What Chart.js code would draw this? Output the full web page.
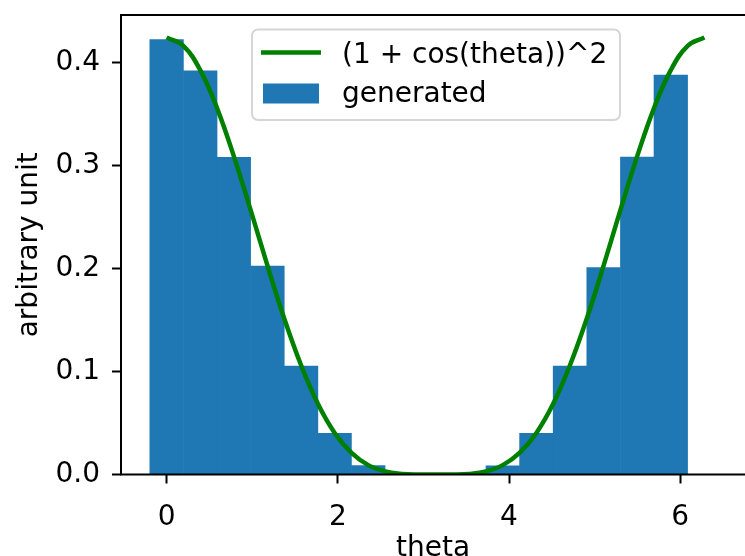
<!DOCTYPE html>
<html><head><meta charset="utf-8">
<script src="https://cdn.jsdelivr.net/npm/chart.js@4"></script>
<style>html,body{margin:0;padding:0;background:#fff;} canvas{display:block;}</style>
</head><body>
<canvas id="c" width="745" height="556"></canvas>
<script>
// ---- data ----
const binCenters = [0.000, 0.393, 0.785, 1.178, 1.571, 1.963, 2.356, 2.749, 3.142, 3.534, 3.927, 4.320, 4.712, 5.105, 5.498, 5.890];
const binHeights = [0.4225, 0.3920, 0.3080, 0.2025, 0.1053, 0.0400, 0.0086, 0.0004, 0.0000, 0.0004, 0.0083, 0.0400, 0.1053, 0.2010, 0.3083, 0.3880];
const curveTheta = [0.000, 0.196, 0.393, 0.589, 0.785, 0.982, 1.178, 1.374, 1.571, 1.767, 1.963, 2.160, 2.356, 2.553, 2.749, 2.945, 3.142, 3.338, 3.534, 3.731, 3.927, 4.123, 4.320, 4.516, 4.712, 4.909, 5.105, 5.301, 5.498, 5.694, 5.890, 6.087, 6.283];
const curveValue = [0.4244, 0.4163, 0.3927, 0.3559, 0.3092, 0.2567, 0.2028, 0.1515, 0.1061, 0.0687, 0.0404, 0.0210, 0.0091, 0.0030, 0.0006, 0.0000, 0.0000, 0.0000, 0.0006, 0.0030, 0.0091, 0.0210, 0.0404, 0.0687, 0.1061, 0.1515, 0.2028, 0.2567, 0.3092, 0.3559, 0.3927, 0.4163, 0.4244];
const xTickValues = [0, 2, 4, 6];
const yTickValues = [0.0, 0.1, 0.2, 0.3, 0.4];
const seriesLabels = ['(1 + cos(theta))^2', 'generated'];
const xTitle = 'theta';
const yTitle = 'arbitrary unit';

const FONT = '"DejaVu Sans", sans-serif';
const FS = 28;
const GREEN = '#008000';
const BLUE = '#1f77b4';

const spines = {
  id: 'spines',
  afterDatasetsDraw(chart) {
    const {ctx, chartArea: a} = chart;
    ctx.save();
    ctx.strokeStyle = '#000';
    ctx.lineWidth = 2;
    ctx.beginPath();
    ctx.moveTo(a.left, a.top); ctx.lineTo(a.right + 2, a.top);
    ctx.moveTo(a.left, a.top - 1); ctx.lineTo(a.left, a.bottom + 1);
    ctx.moveTo(a.left - 1, a.bottom); ctx.lineTo(a.right + 2, a.bottom);
    ctx.stroke();
    ctx.restore();
  }
};

const boxLegend = {
  id: 'boxLegend',
  afterDraw(chart) {
    const ctx = chart.ctx;
    const ds = chart.data.datasets;
    const x0 = 252, y0 = 29.5, w = 368, h = 90.5, r = 6;
    ctx.save();
    ctx.beginPath();
    ctx.roundRect(x0, y0, w, h, r);
    ctx.fillStyle = 'rgba(255,255,255,0.8)';
    ctx.fill();
    ctx.strokeStyle = '#d6d6d6';
    ctx.lineWidth = 2;
    ctx.stroke();
    ctx.strokeStyle = ds[0].borderColor;
    ctx.lineWidth = 4.5;
    ctx.beginPath(); ctx.moveTo(261, 52.5); ctx.lineTo(321, 52.5); ctx.stroke();
    ctx.fillStyle = ds[1].backgroundColor;
    ctx.fillRect(263, 83.5, 56, 20);
    ctx.fillStyle = '#000';
    ctx.font = FS + 'px ' + FONT;
    ctx.textBaseline = 'alphabetic';
    ctx.textAlign = 'left';
    ctx.fillText(ds[0].label, 342, 63);
    ctx.fillText(ds[1].label, 342, 102);
    ctx.restore();
  }
};

new Chart(document.getElementById('c'), {
  type: 'bar',
  data: {
    datasets: [
      {
        type: 'line',
        label: seriesLabels[0],
        data: curveTheta.map((t, i) => ({x: t, y: curveValue[i]})),
        borderColor: GREEN,
        backgroundColor: GREEN,
        borderWidth: 4.5,
        pointRadius: 0,
        fill: false,
        tension: 0.4,
        order: 0
      },
      {
        type: 'bar',
        label: seriesLabels[1],
        data: binCenters.map((c, i) => ({x: c, y: binHeights[i]})),
        backgroundColor: BLUE,
        borderWidth: 0,
        barPercentage: 1,
        categoryPercentage: 1,
        grouped: false,
        order: 1
      }
    ]
  },
  options: {
    responsive: false,
    animation: false,
    devicePixelRatio: 1,
    events: [],
    layout: {padding: {top: 15, right: 0, bottom: 0, left: 0}},
    plugins: {legend: {display: false}, tooltip: {enabled: false}},
    scales: {
      x: {
        type: 'linear',
        min: -0.533, max: 6.757,
        offset: false,
        afterFit(s) { s.height = 81.5; s.paddingLeft = 0; s.paddingRight = 0; },
        afterBuildTicks(s) { s.ticks = xTickValues.map(v => ({value: v})); },
        border: {display: false},
        grid: {offset: false, drawOnChartArea: false, drawTicks: true, tickLength: 9, tickColor: '#000', tickWidth: 2, color: '#000'},
        ticks: {color: '#000', font: {family: FONT, size: FS}, padding: 17, maxRotation: 0, autoSkip: false, callback: v => String(v)},
        title: {display: true, text: xTitle, color: '#000', font: {family: FONT, size: FS, lineHeight: 0.55}, padding: 0}
      },
      y: {
        type: 'linear',
        min: 0, max: 0.4463,
        afterFit(s) { s.width = 121; s.paddingTop = 0; s.paddingBottom = 0; },
        afterBuildTicks(s) { s.ticks = yTickValues.map(v => ({value: v})); },
        border: {display: false},
        grid: {drawOnChartArea: false, drawTicks: true, tickLength: 9, tickColor: '#000', tickWidth: 2, color: '#000'},
        ticks: {color: '#000', font: {family: FONT, size: FS}, padding: 12, autoSkip: false, callback: v => Number(v).toFixed(1)},
        title: {display: true, text: yTitle, color: '#000', font: {family: FONT, size: FS}, padding: {top: 13, bottom: 0}}
      }
    }
  },
  plugins: [spines, boxLegend]
});
</script>
</body></html>
